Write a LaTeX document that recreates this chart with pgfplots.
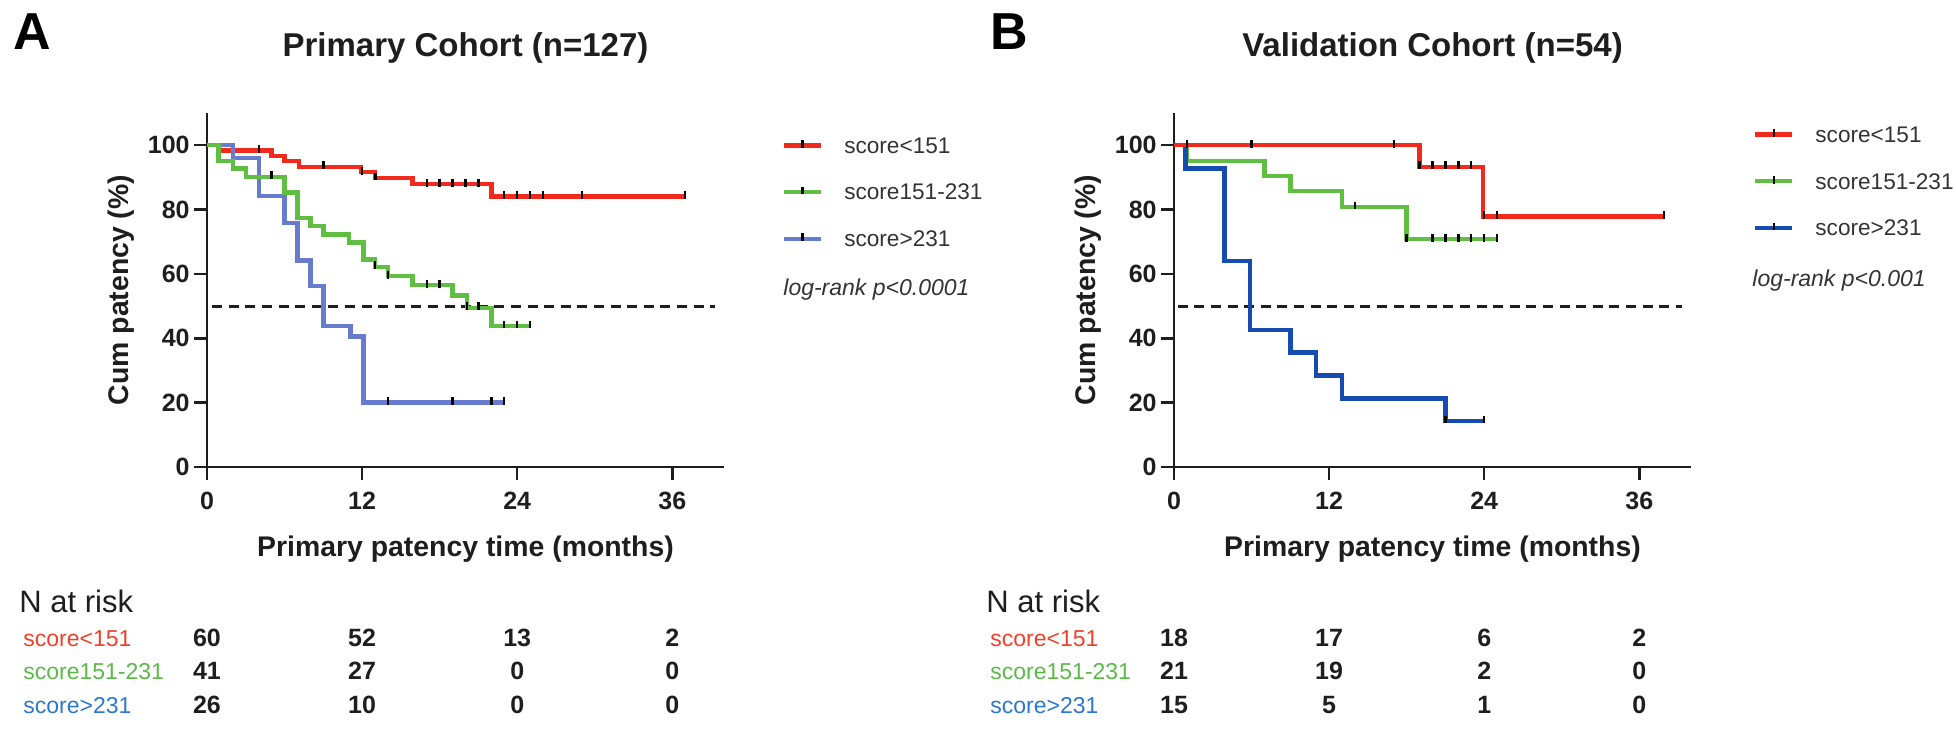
\documentclass[border=0pt]{standalone}
\usepackage{fontspec}
\setmainfont{Liberation Sans}
\usepackage{pgfplots}
\pgfplotsset{compat=1.18}

\definecolor{cred}{RGB}{242,42,30}
\definecolor{cgreen}{RGB}{96,190,66}
\definecolor{cblueA}{RGB}{104,124,206}
\definecolor{cblueB}{RGB}{22,76,176}
\definecolor{lred}{RGB}{240,64,42}
\definecolor{lgreen}{RGB}{92,186,72}
\definecolor{lblue}{RGB}{44,120,206}
\definecolor{txt}{RGB}{51,51,51}
\definecolor{axc}{RGB}{30,30,30}

\pgfdeclareplotmark{censor}{%
 \pgfpathmoveto{\pgfqpoint{0pt}{-1.2pt}}%
 \pgfpathlineto{\pgfqpoint{0pt}{2.7pt}}%
 \pgfusepathqstroke}

\pgfplotsset{
 kmaxis/.style={
  scale only axis, width=258.5pt, height=177pt,
  xmin=0,xmax=40,ymin=0,ymax=110,
  axis x line*=bottom, axis y line*=left,
  axis line style={line width=1.25pt, axc, -},
  xtick={0,12,24,36}, ytick={0,20,40,60,80,100},
  tick align=outside, major tick length=6.5pt,
  tick style={line width=1.25pt, axc},
  /pgf/number format/assume math mode=true,
  ticklabel style={font=\fontsize{12.5}{12.5}\selectfont\bfseries, text=axc},
  yticklabel style={inner sep=0pt, xshift=-2pt},
  xticklabel style={inner sep=0pt, yshift=-6pt},
  label style={font=\fontsize{14.2}{14.2}\selectfont\bfseries, text=axc},
  xlabel={Primary patency time (months)},
  ylabel={Cum patency (\%)},
  x label style={at={(axis description cs:0.5,-0.254)}, anchor=base, inner sep=0pt},
  y label style={at={(axis description cs:-0.166,0.5)}, anchor=center, inner sep=0pt},
  clip=false,
  legend cell align=left,
  legend image code/.code={
    \draw[#1, line width=2.2pt] (0pt,0pt) -- (18.5pt,0pt);
    \draw[black, line width=1.2pt] (9.25pt,-1.2pt) -- (9.25pt,2.7pt);
  },
 },
 km/.style={const plot, line width=2.2pt, mark=none, line join=miter, forget plot},
 cens/.style={only marks, mark=censor, mark options={black, line width=1.2pt}, forget plot},
 dashref/.style={axc, dash pattern=on 5pt off 3.3pt, line width=1.5pt, forget plot},
 kmlegend/.style={draw=none, fill=none, inner sep=0pt, outer sep=0pt,
   row sep=15.5pt, column sep=10.5pt,
   nodes={inner sep=0pt, text depth=0pt},
   font=\fontsize{11.3}{11.3}\selectfont, text=txt},
}

\begin{document}
\begin{tikzpicture}
\useasboundingbox (0,0) rectangle (978pt,364.5pt);

% ---------------- Panel A ----------------
\begin{axis}[kmaxis, at={(103.5pt,131pt)}, anchor=south west,
 legend style={kmlegend, at={(axis description cs:1.112,0.9305)}, anchor=north west}]
\addplot[dashref] coordinates {(0.4,50)(39.3,50)};
\addplot[km, cred] coordinates {(0,100)(0.85,98.3)(5.0,96.7)(6.0,95.0)(7.1,93.3)(11.9,91.6)(13.0,89.8)(15.9,87.9)(22.0,84.0)(37.0,84.0)};
\addplot[km, cblueA] coordinates {(0,100)(2.0,96.1)(4.0,84.2)(6.0,75.9)(7.0,64.2)(8.0,56.2)(9.0,43.8)(11.1,40.5)(12.1,20.0)(23.0,20.0)};
\addplot[km, cgreen] coordinates {(0,100)(0.9,95.1)(2.0,92.7)(3.0,90.2)(6.0,85.3)(7.0,77.4)(8.0,74.8)(9.0,72.3)(11.0,69.7)(12.1,64.5)(13.0,62.2)(14.0,59.3)(15.9,56.5)(19.0,53.3)(20.1,49.5)(22.0,43.8)(25.0,43.8)};
\addplot[cens] coordinates {(4.0,98.3)(9.0,93.3)(12.0,91.6)(13.05,89.8)(17,87.9)(18,87.9)(19,87.9)(20,87.9)(21,87.9)(23,84.0)(24,84.0)(25,84.0)(26,84.0)(29,84.0)(37,84.0)};
\addplot[cens] coordinates {(5.0,90.2)(13.0,62.2)(14.0,59.3)(17,56.5)(18,56.5)(20.1,49.5)(21,49.5)(23,43.8)(24,43.8)(25,43.8)};
\addplot[cens] coordinates {(14,20)(19,20)(22,20)(23,20)};
\addlegendimage{cred}\addlegendentry{score<151}
\addlegendimage{cgreen}\addlegendentry{score151-231}
\addlegendimage{cblueA}\addlegendentry{score>231}
\end{axis}

% ---------------- Panel B ----------------
\begin{axis}[kmaxis, at={(587pt,131pt)}, anchor=south west,
 legend style={kmlegend, at={(axis description cs:1.120,0.961)}, anchor=north west}]
\addplot[dashref] coordinates {(0.3,50)(39.3,50)};
\addplot[km, cgreen] coordinates {(0,100)(1.0,95.0)(7.0,90.4)(9.0,85.7)(13.0,80.8)(18.0,70.8)(25.0,70.8)};
\addplot[km, cblueB] coordinates {(0,100)(0.9,92.8)(3.9,64.1)(5.9,42.5)(9.0,35.6)(11.0,28.4)(13.0,21.3)(21.0,14.3)(24.0,14.3)};
\addplot[km, cred] coordinates {(0,100)(19.0,93.3)(23.9,77.8)(37.9,77.8)};
\addplot[cens] coordinates {(1,100)(6,100)(17,100)(19,93.3)(20,93.3)(21,93.3)(22,93.3)(23,93.3)(24,77.8)(25,77.8)(37.9,77.8)};
\addplot[cens] coordinates {(14,80.8)(18,70.8)(20,70.8)(21,70.8)(22,70.8)(23,70.8)(24,70.8)(25,70.8)};
\addplot[cens] coordinates {(21,14.3)(24,14.3)};
\addlegendimage{cred}\addlegendentry{score<151}
\addlegendimage{cgreen}\addlegendentry{score151-231}
\addlegendimage{cblueB}\addlegendentry{score>231}
\end{axis}

% titles and panel letters
\node[anchor=base west, inner sep=0pt, font=\fontsize{26}{26}\selectfont\bfseries, text=black] at (6.5pt,339.5pt) {A};
\node[anchor=base west, inner sep=0pt, font=\fontsize{26}{26}\selectfont\bfseries, text=black] at (495pt,339.5pt) {B};
\node[anchor=base, inner sep=0pt, font=\fontsize{16.5}{16.5}\selectfont\bfseries, text=axc] at (232.75pt,336pt) {Primary Cohort (n=127)};
\node[anchor=base, inner sep=0pt, font=\fontsize{16.5}{16.5}\selectfont\bfseries, text=axc] at (716.25pt,336pt) {Validation Cohort (n=54)};

% log-rank
\node[anchor=base west, inner sep=0pt, font=\fontsize{11.5}{11.5}\selectfont\itshape, text=txt] at (391.5pt,216.5pt) {log-rank p<0.0001};
\node[anchor=base west, inner sep=0pt, font=\fontsize{11.5}{11.5}\selectfont\itshape, text=txt] at (876pt,221pt) {log-rank p<0.001};

% N at risk tables
\begin{scope}[every node/.style={inner sep=0pt}]
\node[anchor=base west, font=\fontsize{15.5}{15.5}\selectfont, text=axc] at (9.5pt,58pt) {N at risk};
\node[anchor=base west, font=\fontsize{11.5}{11.5}\selectfont, text=lred] at (11.5pt,41.5pt) {score<151};
\node[anchor=base west, font=\fontsize{11.5}{11.5}\selectfont, text=lgreen] at (11.5pt,24.5pt) {score151-231};
\node[anchor=base west, font=\fontsize{11.5}{11.5}\selectfont, text=lblue] at (11.5pt,8pt) {score>231};
\foreach \x/\a/\b/\c in {103.5/60/41/26, 181.05/52/27/10, 258.6/13/0/0, 336.15/2/0/0}{
  \node[anchor=base, font=\fontsize{12.5}{12.5}\selectfont\bfseries, text=axc] at (\x pt,41.5pt) {\a};
  \node[anchor=base, font=\fontsize{12.5}{12.5}\selectfont\bfseries, text=axc] at (\x pt,24.5pt) {\b};
  \node[anchor=base, font=\fontsize{12.5}{12.5}\selectfont\bfseries, text=axc] at (\x pt,8pt) {\c};
}
\node[anchor=base west, font=\fontsize{15.5}{15.5}\selectfont, text=axc] at (493pt,58pt) {N at risk};
\node[anchor=base west, font=\fontsize{11.5}{11.5}\selectfont, text=lred] at (495pt,41.5pt) {score<151};
\node[anchor=base west, font=\fontsize{11.5}{11.5}\selectfont, text=lgreen] at (495pt,24.5pt) {score151-231};
\node[anchor=base west, font=\fontsize{11.5}{11.5}\selectfont, text=lblue] at (495pt,8pt) {score>231};
\foreach \x/\a/\b/\c in {587/18/21/15, 664.55/17/19/5, 742.1/6/2/1, 819.65/2/0/0}{
  \node[anchor=base, font=\fontsize{12.5}{12.5}\selectfont\bfseries, text=axc] at (\x pt,41.5pt) {\a};
  \node[anchor=base, font=\fontsize{12.5}{12.5}\selectfont\bfseries, text=axc] at (\x pt,24.5pt) {\b};
  \node[anchor=base, font=\fontsize{12.5}{12.5}\selectfont\bfseries, text=axc] at (\x pt,8pt) {\c};
}
\end{scope}
\end{tikzpicture}
\end{document}
